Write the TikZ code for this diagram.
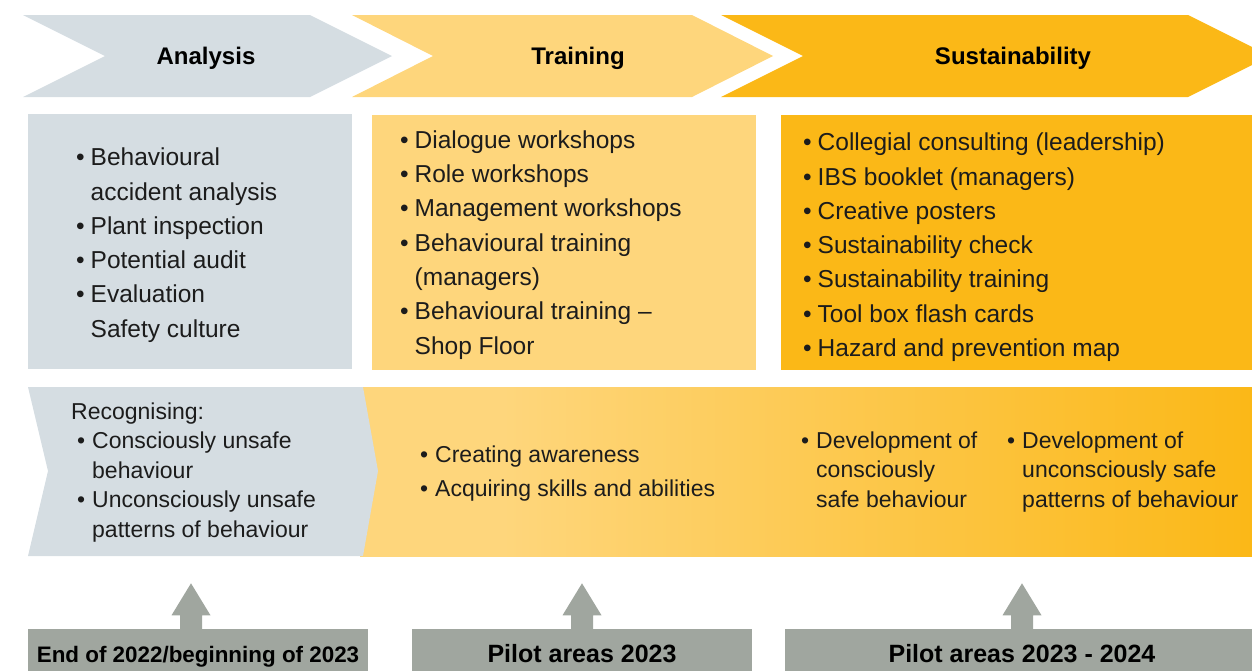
\documentclass[tikz,border=0pt]{standalone}
\usepackage{fontspec}
\setmainfont{Liberation Sans}
\usetikzlibrary{calc}

\definecolor{slate}{RGB}{213,221,226}
\definecolor{sand}{RGB}{254,214,124}
\definecolor{amber}{RGB}{251,184,23}
\definecolor{stone}{RGB}{160,166,159}
\definecolor{ink}{RGB}{28,28,28}

% left-to-right fade of the lower band (25bp..75bp spans the filled path)
\pgfdeclarehorizontalshading{bandfade}{100bp}{color(0bp)=(sand); color(33bp)=(sand); color(75bp)=(amber); color(100bp)=(amber)}

\newlength\bw
% line break that keeps the hanging indent of the current item
\newcommand\nl{\hfil\break}
% bullet item with hanging indent
\newcommand\itm[1]{\par\noindent\hangindent=\bw\hangafter=1\makebox[\bw][l]{\textbullet}#1}

\tikzset{
  hdr/.style={inner sep=0pt, text=black, text height=17.2pt, text depth=0pt,
    font=\bfseries\fontsize{24}{28}\selectfont},
  biglist/.style={inner sep=0pt, anchor=base west, text=ink,
    execute at begin node={\fontsize{24.5}{34.3}\selectfont\setlength\bw{14.5pt}}},
  smalllist/.style={inner sep=0pt, anchor=base west, text=ink,
    execute at begin node={\fontsize{23}{29.5}\selectfont\setlength\bw{15pt}}},
  widelist/.style={inner sep=0pt, anchor=base west, text=ink,
    execute at begin node={\fontsize{23}{34}\selectfont\setlength\bw{15pt}}},
  datebox/.style={fill=stone, inner sep=0pt, text=black, text depth=0pt,
    minimum height=51},
  uparrow/.pic={\fill[stone] (-11,1) -- (-11,-13) -- (-19.5,-13) -- (0,-45)
      -- (19.5,-13) -- (11,-13) -- (11,1) -- cycle;}
}

\begin{document}
\begin{tikzpicture}[x=1pt,y=-1pt]
\useasboundingbox (0,0) rectangle (1252,670);
\clip (0,0) rectangle (1252,670);

% phase chevrons
\fill[slate] (23,15) -- (310,15) -- (392,56) -- (310,97) -- (23,97) -- (105,56) -- cycle;
\fill[sand]  (352,15) -- (692,15) -- (773,56) -- (692,97) -- (352,97) -- (433,56) -- cycle;
\fill[amber] (721,15) -- (1188,15) -- (1270,56) -- (1188,97) -- (721,97) -- (803,56) -- cycle;
\node[hdr] (h1) at (206,55.5) {Analysis};
\node[hdr] (h2) at (578,55.5) {Training};
\node[hdr] (h3) at (1013,55.5) {Sustainability};

% measures per phase
\fill[slate] (28,114) rectangle (352,369);
\fill[sand]  (372,115) rectangle (756,370);
\fill[amber] (781,115) rectangle (1252,370);

\node[biglist] (m1) at (76,165.7) {\parbox[t]{270pt}{\raggedright
  \itm{Behavioural\nl accident analysis}
  \itm{Plant inspection}
  \itm{Potential audit}
  \itm{Evaluation\nl Safety culture}}};

\node[biglist] (m2) at (400,148.3) {\parbox[t]{350pt}{\raggedright
  \itm{Dialogue workshops}
  \itm{Role workshops}
  \itm{Management workshops}
  \itm{Behavioural training\nl (managers)}
  \itm{Behavioural training --\nl Shop Floor}}};

\node[biglist] (m3) at (803,150.7) {\parbox[t]{440pt}{\raggedright
  \itm{Collegial consulting (leadership)}
  \itm{IBS booklet (managers)}
  \itm{Creative posters}
  \itm{Sustainability check}
  \itm{Sustainability training}
  \itm{Tool box flash cards}
  \itm{Hazard and prevention map}}};

% goals band
\shade[shading=bandfade] (360,387) rectangle (1252,556);
\fill[slate] (28,387) -- (363,387) -- (378,471) -- (363,556) -- (28,556) -- (48,471) -- cycle;

\node[smalllist] (g1) at (77,419) {\parbox[t]{290pt}{\raggedright
  \noindent\hspace*{-6pt}Recognising:
  \itm{Consciously unsafe\nl behaviour}
  \itm{Unconsciously unsafe\nl patterns of behaviour}}};

\node[widelist] (g2) at (420,462) {\parbox[t]{340pt}{\raggedright
  \itm{Creating awareness}
  \itm{Acquiring skills and abilities}}};

\node[smalllist] (g3) at (801,448) {\parbox[t]{200pt}{\raggedright
  \itm{Development of\nl consciously\nl safe behaviour}}};

\node[smalllist] (g4) at (1007,448) {\parbox[t]{240pt}{\raggedright
  \itm{Development of\nl unconsciously safe\nl patterns of behaviour}}};

% timing boxes with arrows into the band
\node[datebox, minimum width=340, text height=16pt, font=\bfseries\fontsize{22.4}{26}\selectfont]
  (d1) at (198,654) {End of 2022/beginning of 2023};
\node[datebox, minimum width=340, text height=17.9pt, font=\bfseries\fontsize{25}{29}\selectfont]
  (d2) at (582,654) {Pilot areas 2023};
\node[datebox, minimum width=474, text height=17.9pt, font=\bfseries\fontsize{25}{29}\selectfont]
  (d3) at (1022,654) {Pilot areas 2023 - 2024};

\pic at ([xshift=-7pt]d1.north) {uparrow};
\pic at (d2.north) {uparrow};
\pic at (d3.north) {uparrow};
\end{tikzpicture}
\end{document}
